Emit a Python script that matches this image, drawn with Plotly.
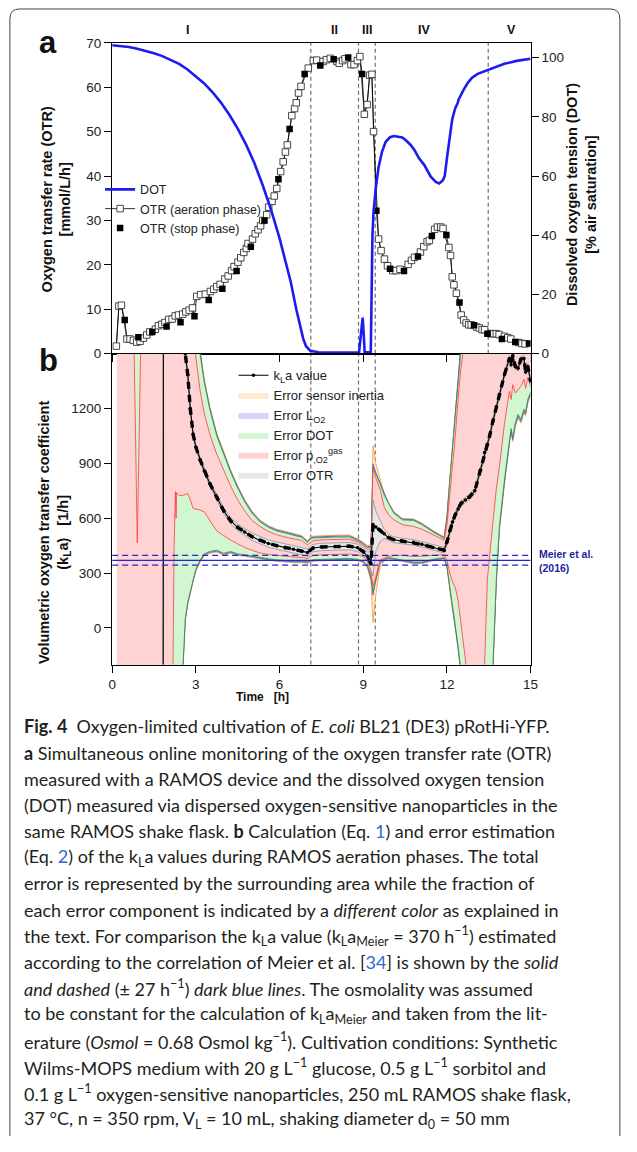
import plotly.graph_objects as go

# page is 637x1152; the browser body keeps an 8 px margin around the figure
PAGE_W, PAGE_H, OFF = 637, 1152, 8
W, H = PAGE_W - 2 * OFF, PAGE_H - 2 * OFF
def px(x): return (x - OFF) / W
def py(y): return 1 - (y - OFF) / H

# ---------------- Panel a data ----------------
dot_t = [0, 0.3, 0.6, 0.9, 1.2, 1.5, 1.8, 2.1, 2.4, 2.7, 3.0, 3.3, 3.6, 3.9, 4.2, 4.5, 4.8, 5.1, 5.4, 5.7,
         6.0, 6.2, 6.4, 6.6, 6.75, 6.85, 6.95, 7.1, 7.4, 8.0, 8.85, 8.9, 8.95, 8.98, 9.02, 9.05, 9.27, 9.3, 9.33, 9.37,
         9.45, 9.55, 9.67, 9.8, 9.96, 10.1, 10.25, 10.4, 10.5, 10.7, 10.84, 11.0, 11.19, 11.42, 11.6, 11.72, 11.85, 11.92, 12.0, 12.1,
         12.19, 12.3, 12.38, 12.42, 12.5, 12.6, 12.75, 12.89, 13.1, 13.48, 13.8, 14.06, 14.5, 15.0]
dot_v = [104.2, 104.0, 103.6, 103.0, 102.3, 101.5, 100.5, 99.3, 97.9, 96.0, 93.8, 91.3, 88.3, 84.8, 80.7, 76.0, 70.6, 64.3, 56.8, 48.5,
         39.0, 32.0, 24.3, 15.0, 9.0, 5.0, 2.5, 1.0, 0.5, 0.4, 0.4, 5.0, 11.5, 12.2, 6.0, 0.5, 0.5, 20.0, 40.0, 48.0,
         56.0, 63.0, 68.1, 71.5, 73.1, 73.5, 73.3, 73.0, 72.3, 70.5, 68.7, 66.0, 63.7, 59.8, 58.0, 57.5, 58.5, 60.0, 66.0, 73.0,
         79.2, 83.0, 84.5, 85.9, 87.5, 89.2, 91.5, 93.1, 94.5, 95.9, 97.0, 97.9, 98.9, 99.6]

otr_aer_t = [0.15, 0.24, 0.33, 0.53, 0.64, 0.76, 0.88, 1.0, 1.12, 1.24,
             1.35, 1.55, 1.66, 1.78, 1.89, 2.03, 2.15, 2.26, 2.38, 2.53,
             2.64, 2.76, 2.88, 3.03, 3.17, 3.34, 3.52, 3.64, 3.75, 3.87,
             4.04, 4.16, 4.28, 4.37, 4.51, 4.61, 4.72, 4.81, 4.87, 5.03,
             5.13, 5.23, 5.32, 5.40, 5.54, 5.61, 5.73, 5.81, 5.90, 6.04,
             6.13, 6.21, 6.28, 6.44, 6.54, 6.60, 6.68, 6.77, 7.03, 7.21,
             7.33, 7.56, 7.68, 7.82, 8.05, 8.14, 8.26, 8.35, 8.56, 8.67,
             8.79, 8.88, 9.04, 9.14, 9.23, 9.31, 9.37, 9.55, 9.64, 9.76,
             9.87, 10.06, 10.18, 10.32, 10.61, 10.73, 10.84, 11.05, 11.17, 11.29,
             11.37, 11.56, 11.66, 11.78, 11.86, 12.07, 12.13, 12.19, 12.25, 12.34,
             12.51, 12.60, 12.69, 12.78, 12.87, 13.06, 13.16, 13.26, 13.35, 13.57,
             13.68, 13.77, 13.87, 14.06, 14.18, 14.29, 14.57, 14.69, 14.80]
otr_aer_v = [1.7, 10.7, 10.9, 3.3, 3.3, 3.0, 2.6, 2.8, 3.5, 4.2,
             4.9, 5.5, 6.3, 6.6, 7.0, 7.7, 7.8, 8.5, 8.7, 8.9,
             9.4, 9.8, 10.3, 12.9, 13.3, 13.4, 14.0, 14.5, 15.1, 15.6,
             16.8, 17.5, 18.7, 19.6, 20.6, 21.6, 22.8, 23.7, 24.8, 25.8,
             27.0, 27.9, 28.8, 30.0, 31.3, 33.0, 34.3, 35.5, 37.2, 41.0,
             43.2, 45.4, 47.0, 53.6, 55.2, 56.5, 58.7, 60.2, 64.3, 66.0,
             66.1, 65.8, 66.2, 66.5, 65.8, 65.4, 66.0, 66.4, 65.1, 65.1,
             66.0, 66.9, 53.9, 56.1, 62.7, 62.9, 50.0, 25.8, 23.2, 21.3,
             19.8, 18.7, 18.7, 19.0, 20.1, 21.0, 21.7, 22.9, 24.1, 25.2,
             25.5, 28.0, 28.5, 28.5, 28.2, 23.9, 22.1, 17.3, 15.5, 13.6,
             8.7, 7.6, 6.9, 6.5, 6.5, 6.0, 5.8, 5.4, 5.4, 4.5,
             4.5, 4.5, 4.3, 3.9, 3.6, 3.3, 2.5, 2.3, 2.2]

otr_stop_t = [0.45, 0.94, 1.44, 1.95, 2.45, 2.95, 3.46, 3.95, 4.46, 4.97, 5.46, 5.96, 6.36, 6.90, 7.46,
              7.94, 8.46, 8.96, 9.47, 9.96, 10.46, 10.96, 11.46, 11.98, 12.45, 12.97, 13.45, 13.97, 14.45, 14.94]
otr_stop_v = [7.6, 3.7, 4.9, 6.1, 7.1, 8.4, 12.1, 14.6, 18.6, 24.1, 30.0, 39.3, 50.6, 63.0, 64.9,
              66.3, 66.7, 63.0, 32.2, 19.1, 18.6, 21.9, 26.5, 26.7, 11.5, 6.4, 4.5, 3.3, 2.6, 2.3]

# ---------------- Panel b data ----------------
kla_t = [0.17, 0.63, 0.90, 1.19, 1.82, 1.84, 2.12, 2.18, 2.22, 2.27,
         2.29, 2.31, 2.40, 2.54, 2.62, 2.71, 2.80, 2.90, 3.00, 3.15,
         3.30, 3.50, 3.75, 4.00, 4.25, 4.50, 4.75, 5.00, 5.30, 5.60,
         5.90, 6.20, 6.50, 6.80, 7.00, 7.10, 7.20, 7.50, 8.00, 8.50,
         8.80, 9.00, 9.15, 9.28, 9.35, 9.45, 9.60, 9.75, 9.90, 10.10,
         10.40, 10.80, 11.10, 11.50, 11.90, 12.00, 12.10, 12.20, 12.30, 12.40,
         12.50, 12.66, 12.80, 13.00, 13.20, 13.35, 13.45, 13.53, 13.65, 13.77,
         13.88, 14.06, 14.24, 14.30, 14.36, 14.45, 14.55, 14.65, 14.76, 14.82, 14.90, 15.00]
kla_v = [-3000, -3000, -3000, -3000, -3000, 3000, 2700, 2550, 2450, 2300,
         2250, 2200, 2000, 1700, 1500, 1384, 1200, 1060, 990, 920,
         860, 790, 715, 640, 585, 550, 525, 500, 480, 462,
         450, 438, 430, 420, 412, 425, 437, 443, 445, 447,
         438, 418, 392, 350, 565, 552, 535, 515, 495, 482,
         475, 468, 457, 440, 425, 470, 530, 580, 620, 650,
         680, 700, 715, 750, 862, 960, 1005, 1050, 1132, 1210,
         1276, 1384, 1474, 1440, 1490, 1430, 1420, 1470, 1474, 1400, 1430, 1350]
err_otr_lo = [-3100, -3100, -3100, -3100, -3100, 2900, 2650, 2500, 2400, 2260,
              2210, 2160, 1970, 1680, 1488, 1372, 1188, 1048, 978, 908,
              847, 777, 700, 624, 568, 532, 506, 480, 460, 442,
              430, 418, 410, 400, 392, 405, 417, 423, 425, 427,
              418, 398, 370, 320, 285, 420, 470, 490, 478, 466,
              460, 453, 442, 425, 410, 455, 515, 565, 605, 635,
              665, 685, 700, 735, 847, 945, 990, 1035, 1117, 1195,
              1261, 1369, 1459, 1425, 1475, 1415, 1405, 1455, 1459, 1385, 1415, 1335]
err_otr_up = [-2900, -2900, -2900, -2900, -2900, 3100, 2750, 2600, 2500, 2340,
              2290, 2240, 2030, 1720, 1512, 1396, 1212, 1072, 1002, 932,
              873, 803, 730, 656, 602, 568, 544, 520, 500, 482,
              470, 458, 450, 440, 432, 445, 457, 463, 465, 467,
              458, 438, 414, 420, 700, 640, 590, 540, 512, 498,
              490, 483, 472, 455, 440, 485, 545, 595, 635, 665,
              695, 715, 730, 765, 877, 975, 1020, 1065, 1147, 1225,
              1291, 1399, 1489, 1455, 1505, 1445, 1435, 1485, 1489, 1415, 1445, 1365]
err_p_lo = [-3000, -3000, -3000, -3000, -3000, -3000, -3000, -200, 450, 745,
            600, 740, 725, 725, 730, 735, 700, 655, 650, 645,
            635, 591, 530, 505, 480, 460, 440, 425, 410, 402,
            396, 392, 388, 385, 380, 390, 396, 400, 402, 404,
            400, 390, 360, 300, 230, 280, 370, 380, 392, 395,
            398, 390, 392, 395, 400, 370, 300, 250, 220, 150,
            30, -170, -600, -1200, -700, -200, 267, 411, 580, 760,
            879, 1114, 1294, 1250, 1330, 1285, 1300, 1320, 1360, 1310, 1370, 1320]
err_p_up = [3000, 3000, 465, 3000, 3000, 3200, 3200, 3200, 3200, 3200,
            3200, 3200, 3100, 2700, 2400, 2100, 1900, 1700, 1480, 1300,
            1175, 1060, 950, 860, 775, 700, 640, 590, 555, 528,
            510, 497, 488, 478, 455, 468, 476, 482, 484, 486,
            470, 450, 430, 430, 870, 820, 760, 663, 620, 591,
            565, 555, 540, 510, 480, 560, 720, 900, 1050, 1250,
            1420, 1600, 2200, 3000, 3200, 3200, 3200, 3200, 3200, 3200,
            3200, 3200, 3200, 3200, 3200, 3200, 3200, 3200, 3200, 3200, 3200, 3200]
err_dot_lo = [-3100, -3100, -3100, -3100, -3100, -3100, -3100, -3000, -2600, -2200,
              -2050, -1900, -1300, -200, 50, 141, 205, 262, 320, 370,
              405, 418, 425, 408, 418, 405, 400, 393, 385, 378,
              372, 368, 365, 365, 362, 368, 372, 375, 378, 380,
              375, 365, 340, 280, 200, 270, 360, 375, 385, 380,
              372, 360, 360, 375, 385, 340, 230, 122, 32, -100,
              -230, -600, -1200, -2500, -1500, -900, -600, -400, -200, 267,
              555, 807, 1042, 1090, 1040, 1120, 1168, 1140, 1196, 1180, 1250, 1290]
err_dot_up = [3100, 3100, 3100, 3100, 3100, 3300, 3300, 3300, 3300, 3300,
              3300, 3300, 3200, 3000, 2800, 2500, 2200, 2000, 1800, 1500,
              1345, 1195, 1050, 950, 850, 765, 690, 630, 580, 550,
              530, 519, 508, 495, 468, 485, 492, 495, 497, 498,
              478, 458, 440, 440, 880, 840, 790, 726, 680, 627,
              591, 588, 565, 525, 490, 600, 800, 1000, 1150, 1350,
              1550, 1800, 2500, 3300, 3400, 3400, 3400, 3400, 3400, 3400,
              3400, 3400, 3400, 3400, 3400, 3400, 3400, 3400, 3400, 3400, 3400, 3400]
err_lo2_lo = [-3150, -3150, -3150, -3150, -3150, -3150, -3150, -3050, -2650, -2250,
              -2100, -1950, -1340, -210, 45, 136, 200, 257, 315, 365,
              400, 413, 420, 403, 413, 400, 396, 389, 381, 374,
              368, 364, 361, 361, 358, 364, 368, 371, 374, 376,
              371, 361, 336, 270, 180, 260, 355, 370, 381, 376,
              368, 356, 356, 371, 381, 335, 225, 115, 25, -110,
              -240, -620, -1220, -2520, -1520, -920, -620, -420, -215, 255,
              545, 797, 1032, 1080, 1030, 1110, 1158, 1130, 1186, 1170, 1240, 1280]
err_lo2_up = [3150, 3150, 3150, 3150, 3150, 3350, 3350, 3350, 3350, 3350,
              3350, 3350, 3250, 3050, 2850, 2550, 2250, 2050, 1850, 1510,
              1352, 1202, 1057, 957, 856, 771, 696, 636, 585, 555,
              535, 524, 513, 500, 473, 490, 497, 500, 502, 503,
              483, 463, 445, 447, 897, 850, 795, 730, 684, 631,
              595, 592, 569, 529, 494, 605, 805, 1005, 1155, 1355,
              1555, 1810, 2520, 3320, 3420, 3420, 3420, 3420, 3420, 3420,
              3420, 3420, 3420, 3420, 3420, 3420, 3420, 3420, 3420, 3420, 3420, 3420]
err_sen_lo = [-3200, -3200, -3200, -3200, -3200, -3200, -3200, -3100, -2700, -2300,
              -2150, -2000, -1380, -220, 40, 131, 195, 252, 310, 360,
              395, 408, 415, 398, 408, 396, 392, 385, 377, 370,
              364, 360, 357, 357, 354, 360, 364, 367, 370, 372,
              367, 357, 330, 250, 30, 180, 330, 365, 377, 372,
              364, 352, 352, 367, 377, 330, 215, 95, 15, -120,
              -250, -640, -1240, -2540, -1540, -940, -640, -440, -230, 245,
              535, 787, 1022, 1070, 1020, 1100, 1148, 1120, 1176, 1160, 1230, 1270]
err_sen_up = [3200, 3200, 3200, 3200, 3200, 3400, 3400, 3400, 3400, 3400,
              3400, 3400, 3300, 3100, 2900, 2600, 2300, 2100, 1900, 1520,
              1360, 1210, 1064, 964, 862, 777, 702, 642, 590, 560,
              540, 529, 518, 505, 478, 495, 502, 505, 507, 508,
              488, 468, 450, 455, 997, 900, 810, 735, 688, 635,
              599, 596, 573, 533, 498, 610, 810, 1010, 1160, 1360,
              1560, 1820, 2540, 3340, 3440, 3440, 3440, 3440, 3440, 3440,
              3440, 3440, 3440, 3440, 3440, 3440, 3440, 3440, 3440, 3440, 3440, 3440]

meier_kla = 370
meier_dev = 27

phase_bounds = [7.12, 8.83, 9.43, 13.48]
phase_names = ["I", "II", "III", "IV", "V"]
phase_label_t = [2.70, 7.96, 9.13, 11.17, 14.30]

time_ticks = [0, 3, 6, 9, 12, 15]
otr_ticks = [0, 10, 20, 30, 40, 50, 60, 70]
dot_ticks = [0, 20, 40, 60, 80, 100]
kla_ticks = [0, 300, 600, 900, 1200]

n = len(kla_t)
for arr in [kla_v, err_otr_lo, err_otr_up, err_p_lo, err_p_up, err_dot_lo, err_dot_up,
            err_lo2_lo, err_lo2_up, err_sen_lo, err_sen_up]:
    assert len(arr) == n, len(arr)

# ---------------- figure ----------------
FONT = "Liberation Sans, Arial, sans-serif"
xdom = [px(118.3), px(545)]
ya_dom = [py(359.3), py(44.3)]
yb_dom = [py(674.3), py(359.3)]

fig = go.Figure()

# Panel a
fig.add_trace(go.Scatter(x=dot_t, y=dot_v, mode="lines", name="DOT",
                         line=dict(color="#1c1cf0", width=2.6), xaxis="x", yaxis="y2",
                         legend="legend", legendrank=1))
comb = sorted(list(zip(otr_aer_t, otr_aer_v)) + list(zip(otr_stop_t, otr_stop_v)))
fig.add_trace(go.Scatter(x=[c[0] for c in comb], y=[c[1] for c in comb], mode="lines",
                         line=dict(color="black", width=0.8), showlegend=False,
                         xaxis="x", yaxis="y"))
fig.add_trace(go.Scatter(x=otr_aer_t, y=otr_aer_v, mode="lines+markers", name="OTR (aeration phase)",
                         line=dict(color="black", width=0.8),
                         marker=dict(symbol="square", size=6.5, color="white",
                                     line=dict(color="#333", width=0.9)),
                         xaxis="x", yaxis="y", legend="legend", legendrank=2))
fig.add_trace(go.Scatter(x=otr_stop_t, y=otr_stop_v, mode="markers", name="OTR (stop phase)",
                         marker=dict(symbol="square", size=6.5, color="black"),
                         xaxis="x", yaxis="y", legend="legend", legendrank=3))

# Panel b error bands (outermost first)
bands = [
    ("Error sensor inertia", err_sen_lo, err_sen_up, "#ffe9cf", "#f59a2a", 2),
    ("Error L<sub>O2</sub>", err_lo2_lo, err_lo2_up, "#d4d4ff", "#4a4af0", 3),
    ("Error DOT", err_dot_lo, err_dot_up, "#d2f5d2", "#2c8a2c", 4),
    ("Error p<sub>,O2</sub><sup>gas</sup>", err_p_lo, err_p_up, "#ffd3d3", "#ff3a3a", 5),
    ("Error OTR", err_otr_lo, err_otr_up, "#e7e7e7", "#8f8f8f", 6),
]
for name, lo, up, fc, ec, rank in bands:
    fig.add_trace(go.Scatter(x=kla_t + kla_t[::-1], y=up + lo[::-1], mode="lines",
                             fill="toself", fillcolor=fc, line=dict(width=0, color=ec),
                             name=name, xaxis="x2", yaxis="y3", legend="legend2",
                             legendrank=rank, hoverinfo="skip"))
    for edge in (up, lo):
        fig.add_trace(go.Scatter(x=kla_t, y=edge, mode="lines", line=dict(color=ec, width=0.8),
                                 showlegend=False, xaxis="x2", yaxis="y3", hoverinfo="skip"))

fig.add_trace(go.Scatter(x=kla_t, y=kla_v, mode="lines+markers", name="k<sub>L</sub>a value",
                         line=dict(color="black", width=1.1), marker=dict(size=3.5, color="black"),
                         xaxis="x2", yaxis="y3", legend="legend2", legendrank=1))
thick = [(t, v) for t, v in zip(kla_t, kla_v) if t >= 2.5]
fig.add_trace(go.Scatter(x=[p[0] for p in thick], y=[p[1] for p in thick], mode="lines",
                         line=dict(color="black", width=3.4, dash="7px,6px"),
                         showlegend=False, xaxis="x2", yaxis="y3", hoverinfo="skip"))

# Meier et al. reference lines
for val, dash, col in [(meier_kla, "solid", "#2424d8"),
                       (meier_kla - meier_dev, "6px,4px", "#2a2ab8"),
                       (meier_kla + meier_dev, "6px,4px", "#2a2ab8")]:
    fig.add_trace(go.Scatter(x=[time_ticks[0], time_ticks[-1]], y=[val, val], mode="lines",
                             line=dict(color=col, width=1.3, dash=dash), showlegend=False,
                             xaxis="x2", yaxis="y3", hoverinfo="skip"))

axis_common = dict(showgrid=False, zeroline=False, showline=True, linecolor="black", linewidth=1.3,
                   ticks="outside", tickcolor="black", tickwidth=1.3, ticklen=7,
                   tickfont=dict(family=FONT, size=13.5, color="#222"))

fig.update_layout(
    width=W, height=H, margin=dict(l=0, r=0, t=0, b=0),
    paper_bgcolor="white", plot_bgcolor="white",
    xaxis=dict(domain=xdom, anchor="y", range=[0, 15], tickvals=time_ticks, showticklabels=False,
               mirror=True, **axis_common),
    yaxis=dict(domain=ya_dom, anchor="x", range=[0, 70], tickvals=otr_ticks, **axis_common),
    yaxis2=dict(overlaying="y", side="right", anchor="x", range=[0, 105], tickvals=dot_ticks, **axis_common),
    xaxis2=dict(domain=xdom, anchor="y3", range=[0, 15], tickvals=time_ticks, mirror=True, **axis_common),
    yaxis3=dict(domain=yb_dom, anchor="x2", range=[-200, 1500], tickvals=kla_ticks, mirror=True, **axis_common),
    legend=dict(x=px(106), y=py(178), xanchor="left", yanchor="top", bgcolor="rgba(0,0,0,0)",
                font=dict(family=FONT, size=12.5, color="#222"), itemwidth=30, tracegroupgap=0),
    legend2=dict(x=px(242), y=py(366), xanchor="left", yanchor="top", bgcolor="rgba(0,0,0,0)",
                 font=dict(family=FONT, size=13, color="#222"), itemwidth=30, tracegroupgap=0),
)

shapes = []
for b in phase_bounds:
    shapes.append(dict(type="line", xref="x", yref="y domain", x0=b, x1=b, y0=0, y1=1, layer="below",
                       line=dict(color="#707070", width=1.2, dash="4px,3px")))
    shapes.append(dict(type="line", xref="x2", yref="y3 domain", x0=b, x1=b, y0=0, y1=1, layer="below",
                       line=dict(color="#707070", width=1.2, dash="4px,3px")))
border = (f"M {px(14)},{py(1160)} L {px(14)},{py(20)} Q {px(14)},{py(10)} {px(24)},{py(10)} "
          f"L {px(626)},{py(10)} Q {px(636)},{py(10)} {px(636)},{py(20)} L {px(636)},{py(1160)}")
shapes.append(dict(type="path", xref="paper", yref="paper", path=border, line=dict(color="#444", width=1)))
fig.update_layout(shapes=shapes)

ann = []
def A(x, y, text, size, color="#111", **kw):
    d = dict(x=x, y=y, xref="paper", yref="paper", text=text, showarrow=False,
             xanchor="center", yanchor="middle",
             font=dict(family=FONT, size=size, color=color))
    d.update(kw)
    ann.append(d)

A(px(53), py(44), "<b>a</b>", 31)
A(px(53), py(366), "<b>b</b>", 31)
for name, t in zip(phase_names, phase_label_t):
    ann.append(dict(x=t, y=py(31), xref="x", yref="paper", text=f"<b>{name}</b>", showarrow=False,
                    xanchor="center", yanchor="middle",
                    font=dict(family=FONT, size=12.5, color="#111")))
A(px(61), py(203), "<b>Oxygen transfer rate (OTR)</b><br><b>[mmol/L/h]</b>", 14.5, textangle=-90)
A(px(597), py(198), "<b>Dissolved oxygen tension (DOT)</b><br><b>[% air saturation]</b>", 14.5, textangle=-90)
A(px(60), py(540), "<b>Volumetric oxygen transfer coefficient</b><br><b>(k<sub>L</sub>a)\u00a0\u00a0\u00a0[1/h]</b>",
  14.5, textangle=-90)
A(px(272), py(707), "<b>Time\u00a0\u00a0\u00a0[h]</b>", 12)
A(px(552), py(569), "<b>Meier et al.</b><br><b>(2016)</b>", 10.5, color="#1f1f9e", xanchor="left", align="left")

LINK = "#2e6bd1"
caption = [
    "<b>Fig.\u00a04</b>\u00a0\u00a0Oxygen-limited cultivation of <i>E. coli</i> BL21 (DE3) pRotHi-YFP.",
    "<b>a</b> Simultaneous online monitoring of the oxygen transfer rate (OTR)",
    "measured with a RAMOS device and the dissolved oxygen tension",
    "(DOT) measured via dispersed oxygen-sensitive nanoparticles in the",
    f"same RAMOS shake flask. <b>b</b> Calculation (Eq. <span style='color:{LINK}'>1</span>) and error estimation",
    f"(Eq. <span style='color:{LINK}'>2</span>) of the k<sub>L</sub>a values during RAMOS aeration phases. The total",
    "error is represented by the surrounding area while the fraction of",
    "each error component is indicated by a <i>different color</i> as explained in",
    "the text. For comparison the k<sub>L</sub>a value (k<sub>L</sub>a<sub>Meier</sub> = 370 h<sup>\u22121</sup>) estimated",
    f"according to the correlation of Meier et al. [<span style='color:{LINK}'>34</span>] is shown by the <i>solid</i>",
    "<i>and dashed</i> (± 27 h<sup>\u22121</sup>) <i>dark blue lines</i>. The osmolality was assumed",
    "to be constant for the calculation of k<sub>L</sub>a<sub>Meier</sub> and taken from the lit-",
    "erature (<i>Osmol</i> = 0.68 Osmol kg<sup>\u22121</sup>). Cultivation conditions: Synthetic",
    "Wilms-MOPS medium with 20 g L<sup>\u22121</sup> glucose, 0.5 g L<sup>\u22121</sup> sorbitol and",
    "0.1 g L<sup>\u22121</sup> oxygen-sensitive nanoparticles, 250 mL RAMOS shake flask,",
    "37 °C, n = 350 rpm, V<sub>L</sub> = 10 mL, shaking diameter d<sub>0</sub> = 50 mm",
]
for i, line in enumerate(caption):
    ann.append(dict(x=px(26), y=py(737 + i * 26.53), xref="paper", yref="paper", text=line,
                    showarrow=False, xanchor="left", yanchor="middle", align="left",
                    font=dict(family="Lato, sans-serif", size=18, color="#231f20")))
fig.update_layout(annotations=ann)

fig.write_html("out.html")
